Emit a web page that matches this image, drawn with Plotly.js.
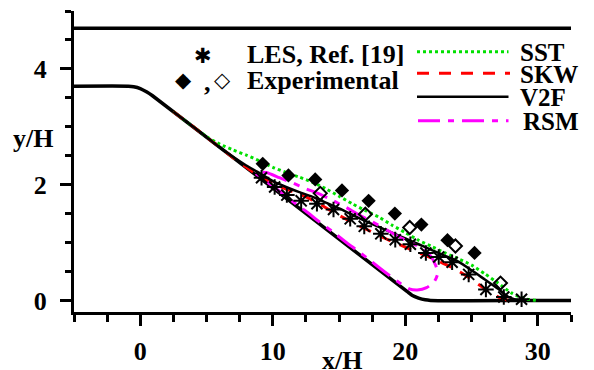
<!DOCTYPE html>
<html>
<head>
<meta charset="utf-8">
<script src="https://cdn.plot.ly/plotly-3.0.1.min.js"></script>
<style>html,body{margin:0;padding:0;background:#fff;}#chart{width:594px;height:370px;}</style>
</head>
<body>
<div id="chart"></div>
<script>
// ---- data ----
const topWallX = [-5, 32.5];
const topWallY = [4.7, 4.7];
const wallX = [-5, -0.9, -0.5, 0, 0.5, 0.9, 20.1, 20.5, 21, 21.5, 21.9, 32.5];
const wallY = [3.7, 3.7, 3.69, 3.66, 3.6, 3.54, 0.16, 0.09, 0.04, 0.01, 0, 0];

const lesX = [9.15, 10.14, 11.06, 12.14, 13.33, 14.58, 15.84, 16.9, 18.15, 19.24, 20.38, 21.55, 22.52, 23.53, 24.78, 26.08, 27.43, 28.77];
const lesY = [2.12, 1.96, 1.82, 1.72, 1.67, 1.57, 1.41, 1.28, 1.15, 1.05, 0.97, 0.82, 0.75, 0.66, 0.45, 0.19, 0.06, 0.02];

const expFilledX = [9.24, 11.18, 13.2, 15.22, 17.23, 19.21, 21.21, 23.18, 25.22];
const expFilledY = [2.36, 2.16, 2.09, 1.9, 1.72, 1.5, 1.31, 1.04, 0.82];

const expOpenX = [13.58, 16.98, 20.33, 23.78, 27.18];
const expOpenY = [1.85, 1.49, 1.26, 0.94, 0.3];

const sstX = [2.5, 4, 5, 6, 7, 8, 9, 10, 11, 12, 13, 14, 15, 16, 17, 18, 19, 20, 21, 22, 23, 24, 25, 26, 27, 28, 29, 30];
const sstY = [3.26, 3.0, 2.83, 2.7, 2.6, 2.51, 2.41, 2.3, 2.21, 2.13, 2.04, 1.93, 1.8, 1.67, 1.55, 1.44, 1.3, 1.17, 1.04, 0.93, 0.82, 0.72, 0.61, 0.46, 0.3, 0.13, 0.03, 0];

const skwX = [2.5, 4, 5.5, 7, 8.5, 9.5, 10.5, 11.5, 12.5, 13.5, 14.5, 15.5, 16.5, 17.5, 18.5, 19.5, 20.5, 21.5, 22.5, 23.5, 24.5, 25.5, 26.5, 27.2, 27.8];
const skwY = [3.26, 3.0, 2.73, 2.47, 2.22, 2.08, 1.97, 1.88, 1.79, 1.67, 1.53, 1.41, 1.29, 1.18, 1.07, 0.97, 0.87, 0.78, 0.68, 0.57, 0.44, 0.28, 0.12, 0.04, 0];

const v2fX = [2.5, 4, 5.5, 7, 8, 9, 10, 11, 12, 13, 14, 15, 16, 17, 18, 19, 20, 21, 22, 23, 24, 25, 26, 27, 27.7, 28.4];
const v2fY = [3.26, 3.0, 2.73, 2.48, 2.33, 2.2, 2.06, 1.96, 1.87, 1.79, 1.69, 1.59, 1.48, 1.37, 1.27, 1.17, 1.07, 0.97, 0.87, 0.77, 0.67, 0.52, 0.36, 0.2, 0.07, 0];

const rsmX = [8.7, 9.5, 10.5, 11.5, 12.5, 13.5, 14.5, 15.5, 16.5, 17.5, 18.5, 19.5, 20.5, 21.3, 21.9, 22.3, 22.45, 22.2, 21.6, 20.9, 20.3, 19.4, 18.4, 17.4, 16.5, 15.5, 14.5, 13.5, 12.5, 11.5, 10.5, 9.5, 8.7];
const rsmY = [2.2, 2.21, 2.12, 2.03, 1.93, 1.84, 1.73, 1.61, 1.48, 1.36, 1.23, 1.1, 0.99, 0.89, 0.77, 0.6, 0.47, 0.33, 0.22, 0.18, 0.2, 0.33, 0.5, 0.68, 0.84, 1.01, 1.19, 1.36, 1.54, 1.71, 1.89, 2.06, 2.2];

const xTickVals = [0, 10, 20, 30];
const xTickText = ['0', '10', '20', '30'];
const yTickVals = [0, 2, 4];
const yTickText = ['0', '2', '4'];

const modelNames = ['SST', 'SKW', 'V2F', 'RSM'];
const lesName = 'LES, Ref. [19]';
const expName = 'Experimental';

// ---- styles ----
const serif = 'Liberation Serif, Times New Roman, serif';
const styles = {
  SST: {color: '#00e000', width: 3, dash: '3px,3px'},
  SKW: {color: '#ff0000', width: 3, dash: '12px,10px'},
  V2F: {color: '#000000', width: 2.5, dash: 'solid'},
  RSM: {color: '#ff00ff', width: 3, dash: '22px,8px,6px,8px'}
};

const W = 594, H = 370;
const M = {l: 74, r: 23, t: 11, b: 58};
const pw = W - M.l - M.r, ph = H - M.t - M.b;
const px2x = p => (p - M.l) / pw;
const py2y = p => (H - M.b - p) / ph;

const traces = [
  {x: topWallX, y: topWallY, mode: 'lines', line: {color: '#000', width: 3.5}, showlegend: false, hoverinfo: 'skip'},
  {x: wallX, y: wallY, mode: 'lines', line: {color: '#000', width: 3.5, shape: 'spline', smoothing: 0.6}, showlegend: false, hoverinfo: 'skip'},
  {x: sstX, y: sstY, mode: 'lines', name: modelNames[0], line: {color: styles.SST.color, width: styles.SST.width, dash: styles.SST.dash, shape: 'spline', smoothing: 0.6}},
  {x: skwX, y: skwY, mode: 'lines', name: modelNames[1], line: {color: styles.SKW.color, width: styles.SKW.width, dash: styles.SKW.dash, shape: 'spline', smoothing: 0.6}},
  {x: v2fX, y: v2fY, mode: 'lines', name: modelNames[2], line: {color: styles.V2F.color, width: styles.V2F.width, shape: 'spline', smoothing: 0.6}},
  {x: rsmX, y: rsmY, mode: 'lines', name: modelNames[3], line: {color: styles.RSM.color, width: styles.RSM.width, dash: styles.RSM.dash, shape: 'spline', smoothing: 0.6}},
  {x: expFilledX, y: expFilledY, mode: 'markers', name: expName, marker: {symbol: 'diamond', size: 11, color: '#000'}},
  {x: expOpenX, y: expOpenY, mode: 'markers', name: expName, marker: {symbol: 'diamond-open', size: 10, color: '#000', line: {width: 2, color: '#000'}}},
  {x: lesX, y: lesY, mode: 'markers', name: lesName, marker: {symbol: 'asterisk-open', size: 13, color: '#000', line: {width: 2, color: '#000'}}}
];

// custom legend (layout decorations)
const legendLineY = [51.7, 73.3, 96.7, 120.7];
const shapes = modelNames.map((n, i) => ({
  type: 'line', xref: 'paper', yref: 'paper',
  x0: px2x(i === 3 ? 418 : 417), x1: px2x(i === 1 ? 510 : 508.5),
  y0: py2y(legendLineY[i]), y1: py2y(legendLineY[i]),
  line: {color: styles[n].color, width: styles[n].width, dash: styles[n].dash}
}));

const txt = (text, x, y, opts) => Object.assign({
  text: text, xref: 'paper', yref: 'paper', x: px2x(x), y: py2y(y),
  xanchor: 'left', yanchor: 'middle', showarrow: false,
  font: {family: serif, size: 25, weight: 'bold', color: '#000'}
}, opts || {});

const annotations = [
  ...modelNames.map((n, i) => txt(n, i === 3 ? 521 : 518, legendLineY[i] + 1)),
  txt(lesName, 245, 54, {font: {family: serif, size: 26, weight: 'bold', color: '#000'}}),
  txt(expName, 245, 81, {font: {family: serif, size: 26, weight: 'bold', color: '#000'}}),
  txt('✱', 203, 56, {xanchor: 'center', font: {family: 'DejaVu Sans', size: 21, color: '#000'}}),
  txt('◆', 183, 80, {xanchor: 'center', font: {family: 'DejaVu Sans', size: 21, color: '#000'}}),
  txt(',', 207, 82, {xanchor: 'center', font: {family: serif, size: 26, weight: 'bold', color: '#000'}}),
  txt('◇', 222, 80, {xanchor: 'center', font: {family: 'DejaVu Sans', size: 21, color: '#000'}}),
  txt('x/H', 342, 360, {xanchor: 'center', font: {family: serif, size: 26, weight: 'bold', color: '#000'}}),
  txt('y/H', 33, 138, {xanchor: 'center', font: {family: serif, size: 26, weight: 'bold', color: '#000'}})
];

const axisCommon = {
  showline: true, linewidth: 3, linecolor: '#000', mirror: false,
  showgrid: false, zeroline: false,
  ticks: 'outside', ticklen: 11, tickwidth: 3, tickcolor: '#000',
  tickfont: {family: serif, size: 26, weight: 'bold', color: '#000'}
};

const layout = {
  width: W, height: H,
  margin: M,
  paper_bgcolor: '#fff', plot_bgcolor: '#fff',
  showlegend: false,
  font: {family: serif, size: 26, weight: 'bold', color: '#000'},
  xaxis: Object.assign({}, axisCommon, {
    range: [-5, 32.5], tickmode: 'array', tickvals: xTickVals, ticktext: xTickText,
    ticklabelstandoff: 3,
    minor: {tick0: 0, dtick: 2.5, ticks: 'outside', ticklen: 7, tickwidth: 3, tickcolor: '#000', showgrid: false}
  }),
  yaxis: Object.assign({}, axisCommon, {
    range: [-0.2, 5], tickmode: 'array', tickvals: yTickVals, ticktext: yTickText,
    ticklabelstandoff: 8,
    minor: {tick0: 0, dtick: 0.5, ticks: 'outside', ticklen: 6, tickwidth: 3, tickcolor: '#000', showgrid: false}
  }),
  shapes: shapes,
  annotations: annotations
};

Plotly.newPlot('chart', traces, layout, {staticPlot: true, displayModeBar: false});
</script>
</body>
</html>
